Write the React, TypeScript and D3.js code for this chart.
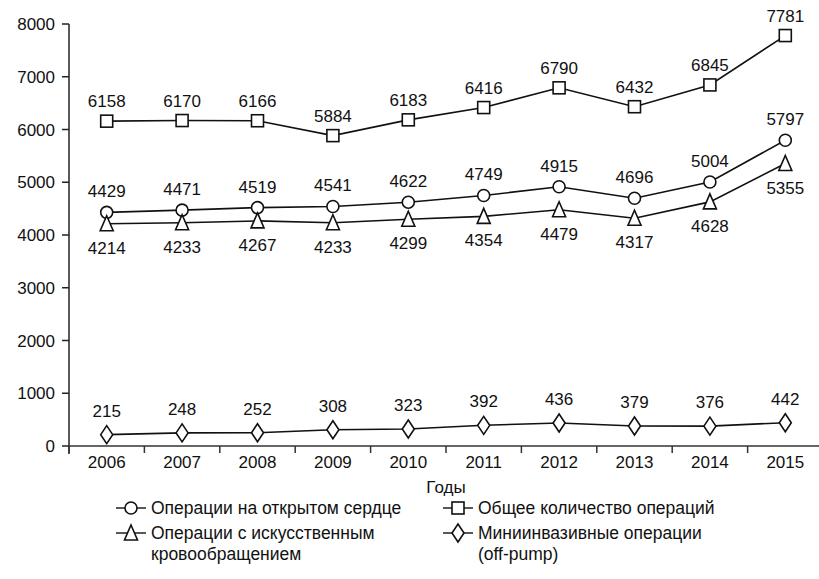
import * as d3 from 'd3'

// Values
const years = ['2006', '2007', '2008', '2009', '2010', '2011', '2012', '2013', '2014', '2015']
const openHeart = [4429, 4471, 4519, 4541, 4622, 4749, 4915, 4696, 5004, 5797]
const total = [6158, 6170, 6166, 5884, 6183, 6416, 6790, 6432, 6845, 7781]
const bypass = [4214, 4233, 4267, 4233, 4299, 4354, 4479, 4317, 4628, 5355]
const offPump = [215, 248, 252, 308, 323, 392, 436, 379, 376, 442]
const yTicks = [0, 1000, 2000, 3000, 4000, 5000, 6000, 7000, 8000]

const W = 819
const H = 579
const FONT = '"Liberation Sans", Arial, Helvetica, sans-serif'

type Shape = 'circle' | 'square' | 'triangle' | 'diamond'

const series: { name: string; values: number[]; shape: Shape; labelDy: number }[] = [
  { name: 'total', values: total, shape: 'square', labelDy: -14 },
  { name: 'open', values: openHeart, shape: 'circle', labelDy: -15 },
  { name: 'bypass', values: bypass, shape: 'triangle', labelDy: 30 },
  { name: 'offpump', values: offPump, shape: 'diamond', labelDy: -18 },
]

function Marker({ shape, x, y }: { shape: Shape; x: number; y: number }) {
  const common = { fill: '#fff', stroke: '#111', strokeWidth: 1.6 }
  if (shape === 'circle') return <circle cx={x} cy={y} r={6} {...common} />
  if (shape === 'square') return <rect x={x - 6} y={y - 6} width={12} height={12} {...common} />
  if (shape === 'triangle')
    return <path d={`M${x},${y - 8} L${x + 6.5},${y + 7} L${x - 6.5},${y + 7} Z`} {...common} />
  return <path d={`M${x},${y - 9} L${x + 6},${y} L${x},${y + 9} L${x - 6},${y} Z`} {...common} />
}

export default function App() {
  const x = d3.scaleBand<string>().domain(years).range([69, 823]).padding(0)
  const y = d3.scaleLinear().domain([0, 8000]).range([446, 24])
  const cx = (yr: string) => (x(yr) ?? 0) + x.bandwidth() / 2

  const line = d3
    .line<number>()
    .x((_, i) => cx(years[i]))
    .y((d) => y(d))

  const legend = [
    { shape: 'circle' as Shape, lines: ['Операции на открытом сердце'], x: 116, y: 508 },
    { shape: 'triangle' as Shape, lines: ['Операции с искусственным', 'кровообращением'], x: 116, y: 533 },
    { shape: 'square' as Shape, lines: ['Общее количество операций'], x: 443, y: 508 },
    { shape: 'diamond' as Shape, lines: ['Миниинвазивные операции', '(off-pump)'], x: 443, y: 533 },
  ]

  return (
    <svg
      width={W}
      height={H}
      style={{ position: 'absolute', left: 0, top: 0, background: '#fff' }}
      fontFamily={FONT}
    >
      {/* Y axis */}
      <line x1={69} x2={69} y1={24} y2={454} stroke="#222" strokeWidth={1.5} />
      {yTicks.map((t) => (
        <g key={t}>
          <line x1={62} x2={69} y1={y(t)} y2={y(t)} stroke="#222" strokeWidth={1.5} />
          <text x={55} y={y(t) + 6} textAnchor="end" fontSize={17} fill="#111">
            {t}
          </text>
        </g>
      ))}

      {/* X axis */}
      <line x1={69} x2={W} y1={y(0)} y2={y(0)} stroke="#333" strokeWidth={1.5} />
      {years.map((yr) => (
        <g key={yr}>
          <line x1={x(yr)} x2={x(yr)} y1={y(0)} y2={y(0) + 7} stroke="#333" strokeWidth={1.5} />
          <text x={cx(yr)} y={468} textAnchor="middle" fontSize={17} fill="#111">
            {yr}
          </text>
        </g>
      ))}
      <text x={446} y={493} textAnchor="middle" fontSize={17} fill="#111">
        Годы
      </text>

      {/* Series */}
      {series.map((s) => (
        <g key={s.name}>
          <path d={line(s.values) ?? ''} fill="none" stroke="#111" strokeWidth={1.6} />
          {s.values.map((v, i) => (
            <g key={i}>
              <Marker shape={s.shape} x={cx(years[i])} y={y(v)} />
              <text x={cx(years[i])} y={y(v) + s.labelDy} textAnchor="middle" fontSize={17} fill="#111">
                {v}
              </text>
            </g>
          ))}
        </g>
      ))}

      {/* Legend */}
      {legend.map((l) => (
        <g key={l.lines[0]}>
          <line x1={l.x} x2={l.x + 30} y1={l.y} y2={l.y} stroke="#111" strokeWidth={1.4} />
          <Marker shape={l.shape} x={l.x + 15} y={l.y} />
          {l.lines.map((t, j) => (
            <text key={t} x={l.x + 35} y={l.y + 6 + j * 21} fontSize={17.5} fill="#111">
              {t}
            </text>
          ))}
        </g>
      ))}
    </svg>
  )
}
